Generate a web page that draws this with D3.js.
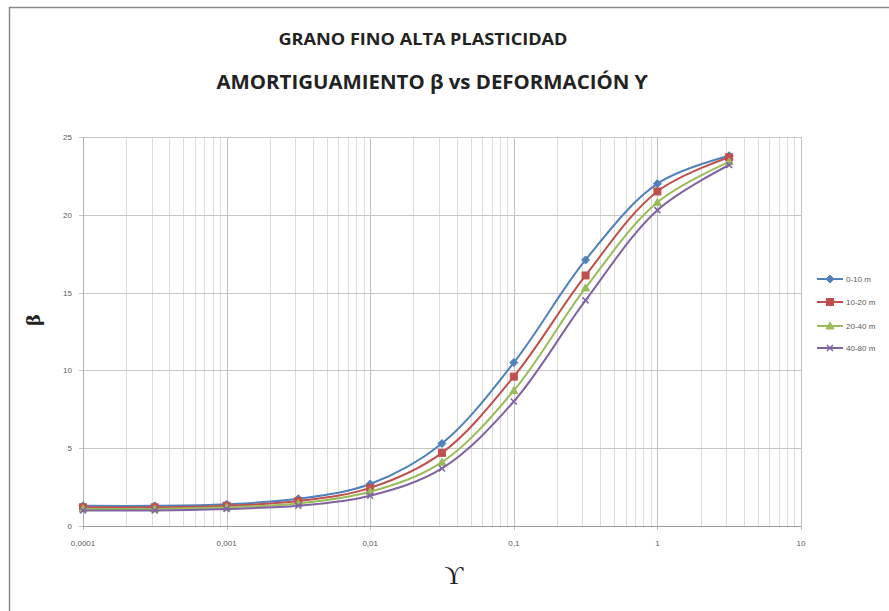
<!DOCTYPE html>
<html><head><meta charset="utf-8">
<script src="https://cdn.jsdelivr.net/npm/d3@7"></script>
<style>body{margin:0;background:#fff;overflow:hidden}</style>
</head><body><svg id="c" width="889" height="611"></svg>
<script>
const strains = [0.0001,0.000316,0.001,0.00316,0.01,0.0316,0.1,0.316,1,3.16];
const seriesNames = ["0-10 m","10-20 m","20-40 m","40-80 m"];
const s0 = [1.3,1.3,1.4,1.75,2.7,5.3,10.5,17.1,22.0,23.8];
const s1 = [1.2,1.2,1.3,1.6,2.45,4.7,9.6,16.1,21.5,23.7];
const s2 = [1.1,1.1,1.2,1.45,2.2,4.1,8.7,15.3,20.8,23.4];
const s3 = [1.0,1.0,1.1,1.3,1.95,3.7,8.0,14.5,20.3,23.2];
const xTicks = [0.0001,0.001,0.01,0.1,1,10];
const xTickLabels = ["0,0001","0,001","0,01","0,1","1","10"];
const yTicks = [0,5,10,15,20,25];
const colors = ["#4F81BD","#C0504D","#9BBB59","#8064A2"];
const markers = ["diamond","square","triangle","x"];
const allSeries = [s0,s1,s2,s3];

const svg = d3.select("#c");
svg.append("rect").attr("x",9.5).attr("y",7.5).attr("width",900).attr("height",700)
  .attr("fill","#fff").attr("stroke","#8a8a8a").attr("stroke-width",1.5);

const x = d3.scaleLog().domain([1e-4,10]).range([83,801]);
const y = d3.scaleLinear().domain([0,25]).range([526,137]);

// gridlines
const g = svg.append("g");
g.selectAll("line.minor").data(x.ticks()).enter().append("line")
  .attr("x1",d=>Math.round(x(d))+0.5).attr("x2",d=>Math.round(x(d))+0.5)
  .attr("y1",y(25)).attr("y2",y(0))
  .attr("stroke","#dcdcdc").attr("stroke-width",1);
g.selectAll("line.major").data(xTicks).enter().append("line")
  .attr("x1",d=>Math.round(x(d))+0.5).attr("x2",d=>Math.round(x(d))+0.5)
  .attr("y1",y(25)).attr("y2",y(0)+4)
  .attr("stroke","#c0c0c0").attr("stroke-width",1);
g.selectAll("line.h").data(yTicks).enter().append("line")
  .attr("x1",x(1e-4)-4).attr("x2",x(10))
  .attr("y1",d=>Math.round(y(d))+0.5).attr("y2",d=>Math.round(y(d))+0.5)
  .attr("stroke","#c6c6c6").attr("stroke-width",1);
// axis lines
svg.append("line").attr("x1",x(1e-4)).attr("x2",x(10)).attr("y1",y(0)+0.5).attr("y2",y(0)+0.5)
  .attr("stroke","#9a9a9a");
svg.append("line").attr("x1",x(1e-4)+0.5).attr("x2",x(1e-4)+0.5).attr("y1",y(25)).attr("y2",y(0))
  .attr("stroke","#b0b0b0");

// tick labels
svg.append("g").selectAll("text").data(xTicks).enter().append("text")
  .attr("x",d=>x(d)).attr("y",y(0)+20).attr("text-anchor","middle")
  .attr("font-family","Liberation Sans, Arial").attr("font-size",8).attr("fill","#595959")
  .text((d,i)=>xTickLabels[i]);
svg.append("g").selectAll("text").data(yTicks).enter().append("text")
  .attr("x",72).attr("y",d=>y(d)+3).attr("text-anchor","end")
  .attr("font-family","Liberation Sans, Arial").attr("font-size",8).attr("fill","#595959")
  .text(d=>d);

// titles
svg.append("text").attr("x",423).attr("y",45).attr("text-anchor","middle")
  .attr("font-family","Open Sans, Liberation Sans").attr("font-weight","bold").attr("font-size",16)
  .attr("fill","#222").attr("textLength",289).attr("lengthAdjust","spacingAndGlyphs")
  .text("GRANO FINO ALTA PLASTICIDAD");
svg.append("text").attr("x",432).attr("y",89).attr("text-anchor","middle")
  .attr("font-family","Open Sans, Liberation Sans").attr("font-weight","bold").attr("font-size",20)
  .attr("fill","#222").attr("textLength",431).attr("lengthAdjust","spacingAndGlyphs")
  .text("AMORTIGUAMIENTO β vs DEFORMACIÓN ϒ");
// axis titles
svg.append("text").attr("transform","translate(40,320) rotate(-90)").attr("text-anchor","middle")
  .attr("font-family","DejaVu Serif, Liberation Serif").attr("font-weight","bold").attr("font-size",18)
  .attr("fill","#222").text("β");
svg.append("text").attr("x",454).attr("y",584).attr("text-anchor","middle")
  .attr("font-family","Liberation Serif, DejaVu Serif").attr("font-size",26)
  .attr("fill","#222").text("ϒ");

// series
const line = d3.line().x(d=>x(d[0])).y(d=>y(d[1])).curve(d3.curveCatmullRom.alpha(0.5));
function drawMarker(sel, type, color, cx, cy){
  if(type==="diamond"){
    sel.append("path").attr("d",`M${cx},${cy-4}L${cx+4},${cy}L${cx},${cy+4}L${cx-4},${cy}Z`).attr("fill",color).attr("stroke",color);
  } else if(type==="square"){
    sel.append("rect").attr("x",cx-3.5).attr("y",cy-3.5).attr("width",7).attr("height",7).attr("fill",color).attr("stroke",color);
  } else if(type==="triangle"){
    sel.append("path").attr("d",`M${cx},${cy-4}L${cx+4},${cy+3}L${cx-4},${cy+3}Z`).attr("fill",color).attr("stroke",color);
  } else {
    sel.append("path").attr("d",`M${cx-3},${cy-3}L${cx+3},${cy+3}M${cx-3},${cy+3}L${cx+3},${cy-3}`).attr("stroke",color).attr("stroke-width",1.5);
  }
}
allSeries.forEach((vals,i)=>{
  const pts = strains.map((s,j)=>[s,vals[j]]);
  const sg = svg.append("g");
  sg.append("path").attr("d",line(pts)).attr("fill","none").attr("stroke",colors[i]).attr("stroke-width",2);
  pts.forEach(p=>drawMarker(sg, markers[i], colors[i], x(p[0]), y(p[1])));
});

// legend
const legY = [279,302,326,348];
seriesNames.forEach((n,i)=>{
  const lg = svg.append("g");
  lg.append("line").attr("x1",817).attr("x2",843).attr("y1",legY[i]).attr("y2",legY[i]).attr("stroke",colors[i]).attr("stroke-width",2);
  drawMarker(lg, markers[i], colors[i], 830, legY[i]);
  lg.append("text").attr("x",846).attr("y",legY[i]+3).attr("font-family","Liberation Sans, Arial")
    .attr("font-size",8).attr("fill","#595959").text(n);
});
</script></body></html>
